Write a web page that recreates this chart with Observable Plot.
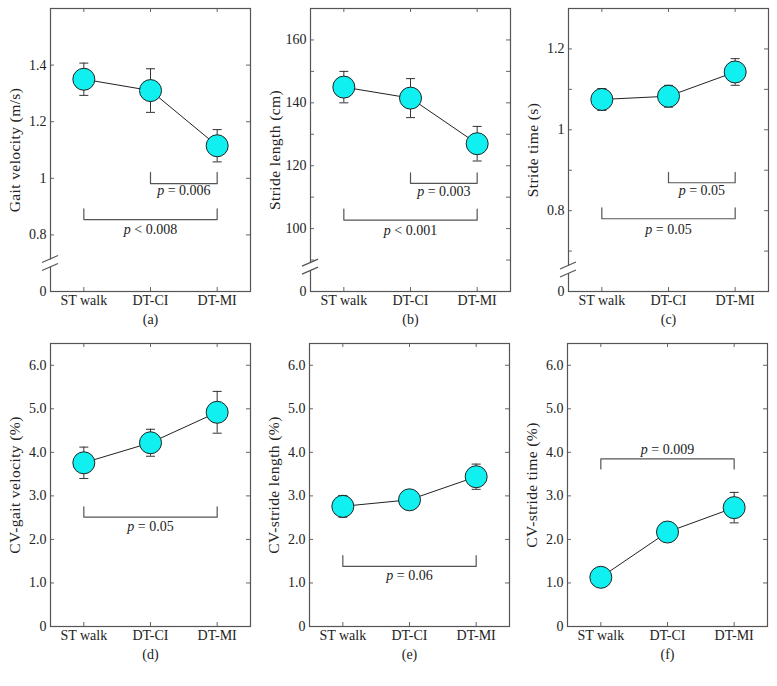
<!DOCTYPE html>
<html><head><meta charset="utf-8">
<script src="https://cdn.jsdelivr.net/npm/d3@7"></script>
<script src="https://cdn.jsdelivr.net/npm/@observablehq/plot@0.6"></script>
<style>
body{margin:0;background:#fff;}
#root{position:relative;width:777px;height:686px;overflow:hidden;background:#fff;}
.panel{position:absolute;}
.panel svg{overflow:visible;}
</style></head><body><div id="root"></div>
<script>
// ---- data ----
const categories = ["ST walk", "DT-CI", "DT-MI"];

const gaitVelocity = [1.35, 1.31, 1.115];
const gaitVelocityErr = [0.057, 0.077, 0.057];
const strideLength = [145, 141.5, 127];
const strideLengthErr = [5, 6.2, 5.5];
const strideTime = [1.075, 1.083, 1.143];
const strideTimeErr = [0.027, 0.027, 0.033];
const cvGaitVelocity = [3.76, 4.22, 4.92];
const cvGaitVelocityErr = [0.36, 0.31, 0.48];
const cvStrideLength = [2.76, 2.91, 3.44];
const cvStrideLengthErr = [0.25, 0.21, 0.29];
const cvStrideTime = [1.13, 2.17, 2.73];
const cvStrideTimeErr = [0.08, 0.22, 0.35];

// tick values / labels (lowest value of broken axes is labelled "0")
const ticksA = [0.6, 0.8, 1, 1.2, 1.4];
const ticksALabels = ["0", "0.8", "1", "1.2", "1.4"];
const ticksAMarks = [0.8, 1, 1.2, 1.4];
const ticksB = [80, 100, 120, 140, 160];
const ticksBLabels = ["0", "100", "120", "140", "160"];
const ticksBMarks = [90, 100, 110, 120, 130, 140, 150, 160];
const ticksC = [0.6, 0.8, 1, 1.2];
const ticksCLabels = ["0", "0.8", "1", "1.2"];
const ticksCMarks = [0.7, 0.8, 0.9, 1, 1.1, 1.2];
const ticksCV = [0, 1, 2, 3, 4, 5, 6];
const ticksCVLabels = ["0", "1.0", "2.0", "3.0", "4.0", "5.0", "6.0"];
const ticksCVMarks = [1, 2, 3, 4, 5, 6];

// significance brackets: from, to, base (horizontal line), tip (end of ticks), label, label y
const bracketsA = [
  {from: "DT-CI", to: "DT-MI", base: 0.981, tip: 1.021, label: "p = 0.006", ly: 0.958},
  {from: "ST walk", to: "DT-MI", base: 0.854, tip: 0.892, label: "p < 0.008", ly: 0.820}
];
const bracketsB = [
  {from: "DT-CI", to: "DT-MI", base: 114.4, tip: 117.7, label: "p = 0.003", ly: 111.8},
  {from: "ST walk", to: "DT-MI", base: 102.7, tip: 106.2, label: "p < 0.001", ly: 99.3}
];
const bracketsC = [
  {from: "DT-CI", to: "DT-MI", base: 0.869, tip: 0.895, label: "p = 0.05", ly: 0.851},
  {from: "ST walk", to: "DT-MI", base: 0.780, tip: 0.807, label: "p = 0.05", ly: 0.754}
];
const bracketsD = [{from: "ST walk", to: "DT-MI", base: 2.51, tip: 2.75, label: "p = 0.05", ly: 2.29}];
const bracketsE = [{from: "ST walk", to: "DT-MI", base: 1.38, tip: 1.63, label: "p = 0.06", ly: 1.17}];
const bracketsF = [{from: "ST walk", to: "DT-MI", base: 3.85, tip: 3.62, label: "p = 0.009", ly: 4.06}];

const panels = [
  {id: "a", title: "Gait velocity (m/s)", values: gaitVelocity, errors: gaitVelocityErr, domain: [0.6, 1.6],
   ticks: ticksA, tickLabels: ticksALabels, marks: ticksAMarks, brk: 0.697, brackets: bracketsA, left: 0, top: 0},
  {id: "b", title: "Stride length (cm)", values: strideLength, errors: strideLengthErr, domain: [80, 170],
   ticks: ticksB, tickLabels: ticksBLabels, marks: ticksBMarks, brk: 87.6, brackets: bracketsB, left: 260, top: 0},
  {id: "c", title: "Stride time (s)", values: strideTime, errors: strideTimeErr, domain: [0.6, 1.3],
   ticks: ticksC, tickLabels: ticksCLabels, marks: ticksCMarks, brk: 0.652, brackets: bracketsC, left: 518, top: 0},
  {id: "d", title: "CV-gait velocity (%)", values: cvGaitVelocity, errors: cvGaitVelocityErr, domain: [0, 6.5],
   ticks: ticksCV, tickLabels: ticksCVLabels, marks: ticksCVMarks, brk: null, brackets: bracketsD, left: 0, top: 335},
  {id: "e", title: "CV-stride length (%)", values: cvStrideLength, errors: cvStrideLengthErr, domain: [0, 6.5],
   ticks: ticksCV, tickLabels: ticksCVLabels, marks: ticksCVMarks, brk: null, brackets: bracketsE, left: 259, top: 335},
  {id: "f", title: "CV-stride time (%)", values: cvStrideTime, errors: cvStrideTimeErr, domain: [0, 6.5],
   ticks: ticksCV, tickLabels: ticksCVLabels, marks: ticksCVMarks, brk: null, brackets: bracketsF, left: 517, top: 335}
];

// ---- drawing ----
const FW = 200, FH = 283, ML = 50, MR = 10, MT = 8, MB = 45;
const FONT = "Liberation Serif";
const pos = c => categories.indexOf(c) + 1;
const capSymbol = {draw(ctx) { ctx.moveTo(-4.5, 0); ctx.lineTo(4.5, 0); }};

function makePanel(p) {
  const data = categories.map((c, i) => ({x: i + 1, v: p.values[i], e: p.errors[i]}));
  const bracketPts = p.brackets.flatMap((b, k) => [
    {k, x: pos(b.from), y: b.tip}, {k, x: pos(b.from), y: b.base},
    {k, x: pos(b.to), y: b.base}, {k, x: pos(b.to), y: b.tip}
  ]);
  const svg = Plot.plot({
    width: ML + FW + MR, height: MT + FH + MB,
    marginLeft: ML, marginRight: MR, marginTop: MT, marginBottom: MB,
    style: {background: "transparent", fontFamily: FONT, fontSize: "14px", color: "#222", overflow: "visible"},
    x: {type: "linear", domain: [0.5, 3.5], axis: null},
    y: {type: "linear", domain: p.domain, axis: null},
    marks: [
      Plot.tickY(p.marks, {y: d => d, insetRight: FW - 4, stroke: "#666"}),
      Plot.tickY(p.marks, {y: d => d, insetLeft: FW - 4, stroke: "#666"}),
      Plot.tickX([1, 2, 3], {x: d => d, insetBottom: FH - 4, stroke: "#666"}),
      Plot.tickX([1, 2, 3], {x: d => d, insetTop: FH - 4, stroke: "#666"}),
      Plot.frame({stroke: "#555", strokeWidth: 1.2}),
      Plot.text(p.ticks, {y: d => d, text: (d, i) => p.tickLabels[i], frameAnchor: "left", textAnchor: "end", dx: -4, fill: "#222", fontSize: 14}),
      Plot.text([1, 2, 3], {x: d => d, text: d => categories[d - 1], frameAnchor: "bottom", lineAnchor: "top", dy: 4, fill: "#222", fontSize: 14}),
      Plot.text([p.title], {text: d => d, frameAnchor: "left", textAnchor: "middle", lineAnchor: "middle", rotate: -90, dx: -35, fontSize: 15.5, fill: "#222"}),
      Plot.text([`(${p.id})`], {text: d => d, frameAnchor: "bottom", dy: 32, fill: "#222", fontSize: 14}),
      Plot.line(bracketPts, {x: "x", y: "y", z: "k", stroke: "#555", strokeWidth: 1.2}),
      Plot.text(p.brackets, {x: b => (pos(b.from) + pos(b.to)) / 2, y: "ly", text: "label", fill: "#222", fontSize: 14}),
      Plot.line(data, {x: "x", y: "v", stroke: "#222", strokeWidth: 1}),
      Plot.ruleX(data, {x: "x", y1: d => d.v - d.e, y2: d => d.v + d.e, stroke: "#333", strokeWidth: 1}),
      Plot.dot(data, {x: "x", y: d => d.v + d.e, symbol: capSymbol, r: 3, fill: "none", stroke: "#333", strokeWidth: 1}),
      Plot.dot(data, {x: "x", y: d => d.v - d.e, symbol: capSymbol, r: 3, fill: "none", stroke: "#333", strokeWidth: 1}),
      Plot.dot(data, {x: "x", y: "v", r: 11, fill: "#10f0f0", stroke: "#222", strokeWidth: 1})
    ]
  });
  d3.select(svg).selectAll("text").each(function() {
    const t = this.textContent;
    // slightly spaced axis titles
    if (t === p.title) d3.select(this).style("letter-spacing", "0.4px");
    // italic "p"
    const m = /^p ([=<].*)$/.exec(t);
    if (m && this.children.length === 0) {
      const el = d3.select(this);
      el.text(null);
      el.append("tspan").attr("font-style", "italic").text("p");
      el.append("tspan").text(" " + m[1]);
    }
  });
  // axis break symbol
  if (p.brk != null) {
    const cy = svg.scale("y").apply(p.brk);
    const g = d3.select(svg).append("g");
    g.append("rect").attr("x", ML - 2).attr("y", cy - 4).attr("width", 4).attr("height", 7).attr("fill", "#fff");
    g.append("line").attr("x1", ML - 8).attr("y1", cy - 1).attr("x2", ML + 8).attr("y2", cy - 8)
      .attr("stroke", "#555").attr("stroke-width", 1.2);
    g.append("line").attr("x1", ML - 8).attr("y1", cy + 7).attr("x2", ML + 8).attr("y2", cy)
      .attr("stroke", "#555").attr("stroke-width", 1.2);
  }
  const div = document.createElement("div");
  div.className = "panel";
  div.style.left = p.left + "px";
  div.style.top = p.top + "px";
  div.style.width = (ML + FW + MR) + "px";
  div.appendChild(svg);
  document.getElementById("root").appendChild(div);
}
panels.forEach(makePanel);
</script></body></html>
